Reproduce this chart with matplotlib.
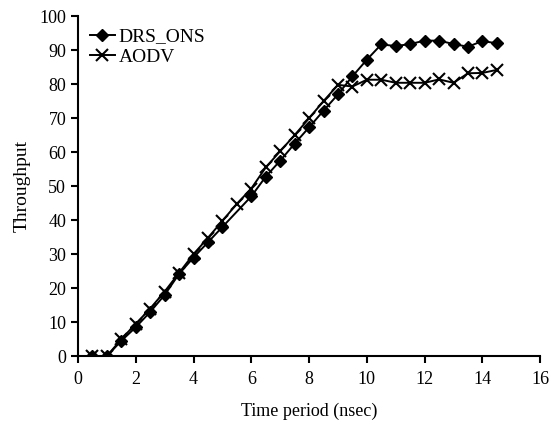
import matplotlib
matplotlib.use("Agg")
import matplotlib.pyplot as plt

time = [0.5, 1.0, 1.5, 2.0, 2.5, 3.0, 3.5, 4.0, 4.5, 5.0, 5.5, 6.0, 6.5, 7.0, 7.5,
        8.0, 8.5, 9.0, 9.5, 10.0, 10.5, 11.0, 11.5, 12.0, 12.5, 13.0, 13.5, 14.0, 14.5]
drs_ons = [0, 0, 4.5, 8.5, 13, 18, 24.2, 29, 33.5, 38, 42.5, 47, 52.8, 57.5, 62.5,
           67.3, 72.2, 77, 82.3, 87.2, 91.7, 91.2, 91.8, 92.8, 92.8, 91.8, 91, 92.7, 92]
aodv = [0, 0, 5, 9.5, 14, 19, 24.5, 30, 34.8, 39.8, 44.8, 49.3, 55.5, 60.3, 65,
        70, 75, 79.8, 79.3, 81.3, 81.3, 80.4, 80.4, 80.4, 81.4, 80.4, 83.2, 83.3, 84.2]

xticks = list(range(0, 17, 2))
yticks = list(range(0, 101, 10))

plt.rcParams['font.family'] = ['Liberation Serif', 'DejaVu Serif']

fig = plt.figure(figsize=(5.49, 4.25), dpi=100)
ax = fig.add_axes([0.142, 0.162, 0.842, 0.800])

drs_marks = [i for i in range(len(time)) if i != 10]
ax.plot(time, drs_ons, color='black', lw=1.4, marker='D', markersize=6,
        markevery=drs_marks, label='DRS_ONS')
ax.plot(time, aodv, color='black', lw=1.4, marker='x', markersize=8,
        markeredgewidth=1.5, label='AODV')

ax.set_xlim(0, 16)
ax.set_ylim(0, 100)
ax.set_xticks(xticks)
ax.set_yticks(yticks)
for s in ['top', 'right']:
    ax.spines[s].set_visible(False)
for s in ['left', 'bottom']:
    ax.spines[s].set_linewidth(1.5)
ax.tick_params(direction='out', length=5, width=1.5, labelsize=13)
ax.tick_params(axis='x', pad=6)
ax.set_xlabel('Time period (nsec)', fontsize=13, labelpad=10)
ax.set_ylabel('Throughput', fontsize=14, labelpad=6)

ax.legend(loc='upper left', bbox_to_anchor=(0.0, 1.0), frameon=False, fontsize=14,
          handlelength=1.3, handletextpad=0.2, labelspacing=0.15, borderaxespad=0.2)

fig.savefig('out.png', dpi=100)
